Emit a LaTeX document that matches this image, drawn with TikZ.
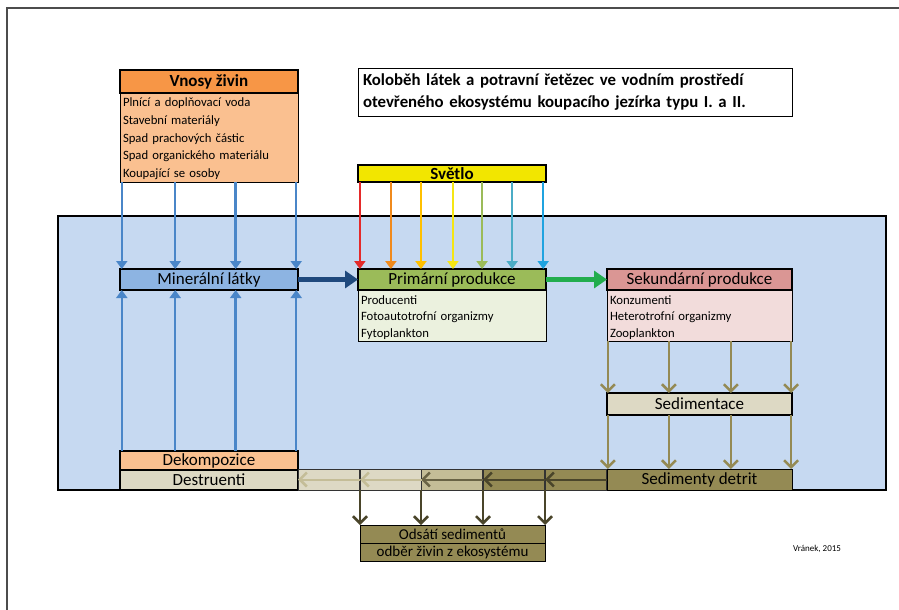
\documentclass[tikz,border=0pt]{standalone}
\usepackage{fontspec}
\setmainfont{Carlito}
\usetikzlibrary{arrows.meta,calc}
\definecolor{voda}{HTML}{C6D9F1}
\definecolor{vnosyh}{HTML}{F79646}
\definecolor{vnosyb}{HTML}{FAC090}
\definecolor{miner}{HTML}{8DB4E2}
\definecolor{primh}{HTML}{9BBB59}
\definecolor{primb}{HTML}{EBF1DE}
\definecolor{sekh}{HTML}{DA9694}
\definecolor{sekb}{HTML}{F2DCDB}
\definecolor{pasl}{HTML}{DDD9C4}
\definecolor{pasm}{HTML}{C4BD97}
\definecolor{olivy}{HTML}{948A54}
\definecolor{tmava}{HTML}{4A452A}
\definecolor{zluta}{HTML}{F2E600}
\definecolor{tmmodra}{HTML}{1F497D}
\definecolor{modra}{HTML}{4A86C8}
\definecolor{zelena}{HTML}{22AD4E}
\definecolor{r1}{HTML}{E42A2A}
\definecolor{r2}{HTML}{F08A1C}
\definecolor{r3}{HTML}{FFC000}
\definecolor{r4}{HTML}{F5E614}
\definecolor{r5}{HTML}{9BBB59}
\definecolor{r6}{HTML}{4BACC6}
\definecolor{r7}{HTML}{1FA3E0}

\begin{document}
\begin{tikzpicture}[x=1pt,y=-1pt]
    \tikzstyle{every node}=[inner sep=0pt, outer sep=0pt, text=black]
    \tikzstyle{hdr}=[draw, line width=1.6pt, anchor=north west, font=\fontsize{17}{19}\selectfont]
    \tikzstyle{body}=[draw, thin, anchor=north west, align=left, inner xsep=3pt, font=\fontsize{12.7}{17.5}\selectfont]
    \tikzstyle{seg}=[draw=black!80, thin, anchor=north west, minimum width=61.5pt, minimum height=21pt]
    \tikzstyle{lin}=[line width=2.5pt, -{Triangle[length=8pt,width=11pt]}]
    \tikzstyle{barb}=[line width=2.5pt, -{Straight Barb[length=7pt,width=14pt,line width=2.5pt]}]
    \tikzstyle{tlusta}=[line width=5pt, -{Triangle[length=13pt,width=17pt]}]
    \def\zac#1{\rule{0pt}{#1}}
    \useasboundingbox (0,0) rectangle (899,610);
    % ramecek stranky a vodni prostredi
    \draw[black!70, line width=1.5pt] (7,610) -- (7,8) -- (899,8);
    \draw[fill=voda, line width=1.5pt] (58,216) rectangle (886,490);

    \node[draw, thin, anchor=north west, minimum width=434pt, minimum height=48pt, inner xsep=5pt,
      text width=424pt, align=left, font=\bfseries\fontsize{16.8}{22}\selectfont] (nadpis) at (358,68)
      {Koloběh látek a potravní řetězec ve vodním prostředí\\otevřeného ekosystému koupacího jezírka typu I. a II.};

    \node[hdr, fill=vnosyh, minimum width=178pt, minimum height=23pt, font=\bfseries\fontsize{17}{19}\selectfont] (vnosy) at (120,70) {Vnosy živin};
    \node[body, fill=vnosyb, text width=172pt, minimum height=89pt, font=\fontsize{12.7}{17.8}\selectfont] (vnosyt) at (vnosy.south west)
      {\zac{9pt}Plnící a doplňovací voda\\Stavební materiály\\Spad prachových částic\\Spad organického materiálu\\\smash{Koupající se osoby}};
    \node[hdr, fill=zluta, minimum width=188pt, minimum height=17pt, font=\bfseries\fontsize{17}{19}\selectfont] (svetlo) at (358,165) {Světlo};

    \node[hdr, fill=miner, minimum width=178pt, minimum height=21pt] (miner) at (120,269) {Minerální látky};
    \node[hdr, fill=primh, minimum width=188pt, minimum height=21pt] (prim) at (358,269) {Primární produkce};
    \node[body, fill=primb, text width=182pt, minimum height=51pt, font=\fontsize{12.7}{16.5}\selectfont] (primt) at (prim.south west)
      {\zac{10pt}Producenti\\Fotoautotrofní organizmy\\\smash{Fytoplankton}};
    \node[hdr, fill=sekh, minimum width=185pt, minimum height=21pt] (sek) at (607,269) {Sekundární produkce};
    \node[body, fill=sekb, text width=179pt, minimum height=51pt, font=\fontsize{12.7}{16.5}\selectfont] (sekt) at (sek.south west)
      {\zac{10pt}Konzumenti\\Heterotrofní organizmy\\\smash{Zooplankton}};

    \node[hdr, fill=pasl, minimum width=185pt, minimum height=22pt] (sedim) at (607,393) {Sedimentace};
    \node[hdr, thin, fill=olivy, minimum width=185pt, minimum height=21pt] (detrit) at (607,469) {Sedimenty detrit};
    \node[hdr, fill=vnosyb, minimum width=178pt, minimum height=19pt] (dekomp) at (120,451) {Dekompozice};
    \node[hdr, fill=pasl, minimum width=178pt, minimum height=20pt] (destr) at (dekomp.south west) {Destruenti};

    \foreach \i/\x/\c in {1/298/pasl, 2/360/pasl, 3/421/pasm, 4/483/olivy, 5/545/olivy}
      \node[seg, fill=\c] (s\i) at (\x,469) {};

    \node[hdr, thin, fill=olivy, minimum width=185pt, minimum height=18pt, font=\fontsize{15}{17}\selectfont] (ods) at (360,525) {Odsátí sedimentů};
    \node[hdr, thin, fill=olivy, minimum width=185pt, minimum height=18pt, font=\fontsize{15}{17}\selectfont] (odb) at (ods.south west) {odběr živin z ekosystému};

    \node[anchor=west, font=\fontsize{9}{10}\selectfont] (autor) at (793,549) {Vránek, 2015};

    % vnosy a dekompozice
    \foreach \f in {0.01,0.31,0.65,0.99} {
      \draw[lin, modra] ($(vnosyt.south west)!\f!(vnosyt.south east)$) -- ($(miner.north west)!\f!(miner.north east)$);
      \draw[lin, modra] ($(dekomp.north west)!\f!(dekomp.north east)$) -- ($(miner.south west)!\f!(miner.south east)$);
    }
    % svetlo
    \foreach \f/\c in {0.01/r1, 0.175/r2, 0.335/r3, 0.505/r4, 0.66/r5, 0.82/r6, 0.985/r7}
      \draw[lin, draw=\c, fill=\c] ($(svetlo.south west)!\f!(svetlo.south east)$) -- ($(prim.north west)!\f!(prim.north east)$);

    \draw[tlusta, tmmodra] (miner.east) -- (prim.west);
    \draw[tlusta, zelena] (prim.east) -- (sek.west);

    % sedimentace
    \foreach \f in {0.005,0.335,0.67,0.995} {
      \draw[barb, olivy] ($(sekt.south west)!\f!(sekt.south east)$) -- ($(sedim.north west)!\f!(sedim.north east)$);
      \draw[barb, olivy] ($(sedim.south west)!\f!(sedim.south east)$) -- ($(detrit.north west)!\f!(detrit.north east)$);
    }
    \foreach \i/\c in {5/tmava, 4/tmava, 3/tmava!75!pasm, 2/pasm, 1/pasm}
      \draw[barb, \c, line width=2pt] (s\i.east) -- (s\i.west);

    \foreach \i in {2,3,4,5}
      \draw[barb, tmava] (s\i.south west) -- (s\i.south west |- ods.north);
  \end{tikzpicture}
\end{document}
